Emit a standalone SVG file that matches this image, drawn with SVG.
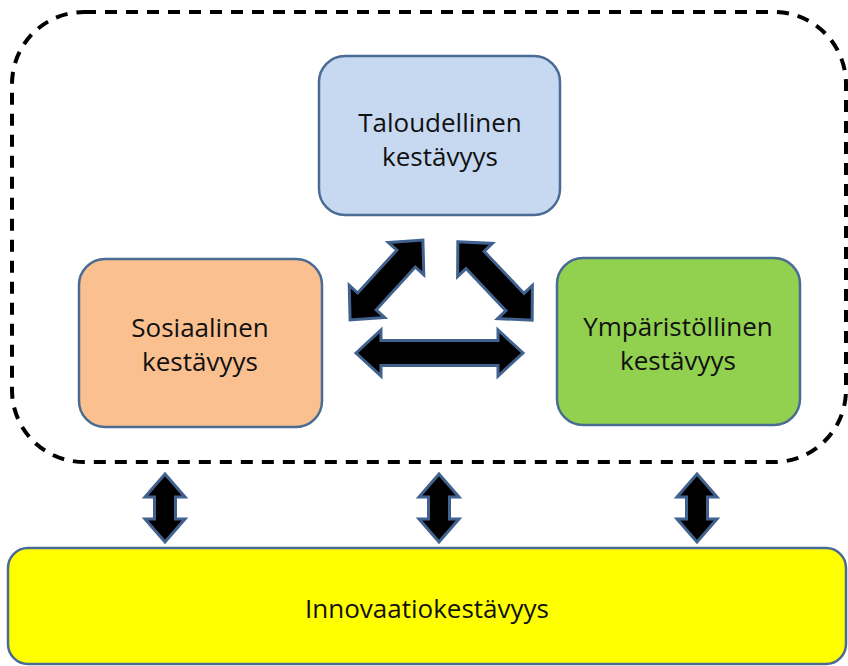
<svg xmlns="http://www.w3.org/2000/svg" width="848" height="666" viewBox="0 0 848 666">
<style>
.box{stroke:#4a6b94;stroke-width:2.5}
.lbl{font-family:"Open Sans","Liberation Sans",sans-serif;font-size:26px;fill:#111;text-anchor:middle}
.arr{fill:#000;stroke:#41628f;stroke-width:3;stroke-linejoin:miter}
</style>
<defs>
<path id="diag" d="M-54 0 L-29 -24 L-29 -12.5 L29 -12.5 L29 -24 L54 0 L29 24 L29 12.5 L-29 12.5 L-29 24 Z"/>
<path id="vert" d="M0 -34 L20 -11 L10.5 -11 L10.5 11 L20 11 L0 34 L-20 11 L-10.5 11 L-10.5 -11 L-20 -11 Z"/>
</defs>
<rect width="848" height="666" fill="#fff"/>
<g id="boundary">
<rect x="12" y="12" width="834" height="450" rx="72" ry="72" fill="none" stroke="#000" stroke-width="4" stroke-dasharray="12 9"/>
</g>
<g id="taloudellinen">
<rect class="box" x="319" y="56" width="241" height="159" rx="26" fill="#c6d9f1"/>
<text class="lbl" x="440" y="132">Taloudellinen</text>
<text class="lbl" x="440" y="166">kestävyys</text>
</g>
<g id="sosiaalinen">
<rect class="box" x="79" y="259" width="243" height="168" rx="26" fill="#fac090"/>
<text class="lbl" x="200" y="337">Sosiaalinen</text>
<text class="lbl" x="200" y="371">kestävyys</text>
</g>
<g id="ymparistollinen">
<rect class="box" x="557" y="258" width="243" height="167" rx="26" fill="#92d050"/>
<text class="lbl" x="678" y="336">Ympäristöllinen</text>
<text class="lbl" x="678" y="370">kestävyys</text>
</g>
<g id="innovaatio">
<rect class="box" x="8" y="548" width="838" height="116" rx="20" fill="#ffff00"/>
<text class="lbl" x="427" y="618">Innovaatiokestävyys</text>
</g>
<g id="connectors">
<use href="#diag" class="arr" transform="translate(386.5,280) rotate(-47.6)"/>
<use href="#diag" class="arr" transform="translate(495,281) rotate(46.5)"/>
<path class="arr" d="M356 353 L381 330 L381 340.5 L498 340.5 L498 330 L523 353 L498 376 L498 365.5 L381 365.5 L381 376 Z"/>
<use href="#vert" class="arr" transform="translate(165,508)"/>
<use href="#vert" class="arr" transform="translate(439,508)"/>
<use href="#vert" class="arr" transform="translate(697,508)"/>
</g>
</svg>
